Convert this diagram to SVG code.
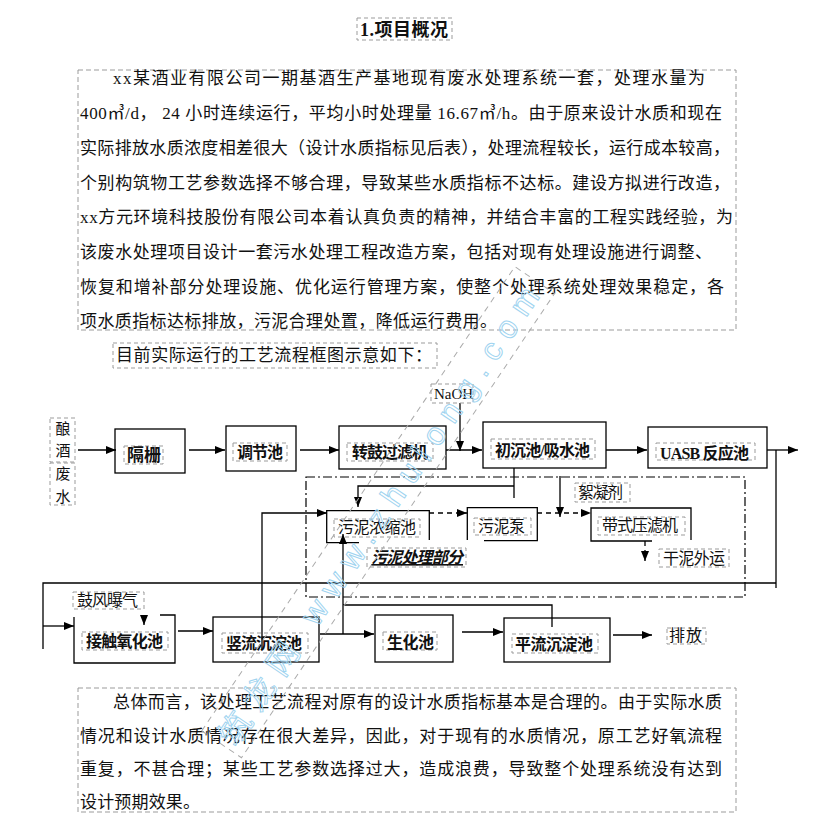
<svg xmlns="http://www.w3.org/2000/svg" width="825" height="822" viewBox="0 0 825 822">
<style>
.bg{fill:#fff}
.box{fill:none;stroke:#000;stroke-width:1.3}
.lb{fill:none;stroke:#9b9b9b;stroke-width:1;stroke-dasharray:4 3}
.pb{fill:none;stroke:#9b9b9b;stroke-width:1;stroke-dasharray:5 3}
.c{fill:none;stroke:#000;stroke-width:1.3}
.d{stroke-dasharray:5 4}
.dd{fill:none;stroke:#000;stroke-width:1.2;stroke-dasharray:9 3 2 3}
.t{font-family:"Liberation Serif","Noto Sans CJK SC",serif;font-size:17px;fill:#111}
.n{font-size:16px}
.b{font-weight:bold}
.wm{font-family:"Liberation Sans","Noto Sans CJK SC",sans-serif;font-size:32px;fill:none;stroke:#9fd4f0;stroke-width:1}
</style>
<defs>
<marker id="ah" viewBox="0 0 10 8" refX="10" refY="4" markerWidth="10" markerHeight="8" markerUnits="userSpaceOnUse" orient="auto">
<path d="M0,0 L10,4 L0,8 z" fill="#000"/>
</marker>
</defs>
<rect class="bg" x="0" y="0" width="825" height="822"/>

<g id="title">
<rect class="lb" x="357" y="18" width="95" height="22"/>
<text class="t b" x="360" y="36" style="font-size:18px" textLength="88" lengthAdjust="spacing">1.项目概况</text>
</g>

<g id="para1">
<rect class="pb" x="78" y="70" width="658" height="260"/>
<text class="t" x="113" y="84" textLength="592" lengthAdjust="spacing">xx某酒业有限公司一期基酒生产基地现有废水处理系统一套，处理水量为</text>
<text class="t" x="80" y="119" textLength="642" lengthAdjust="spacing">400㎥/d，  24 小时连续运行，平均小时处理量 16.67㎥/h。由于原来设计水质和现在</text>
<text class="t" x="80" y="154" textLength="650" lengthAdjust="spacing">实际排放水质浓度相差很大（设计水质指标见后表），处理流程较长，运行成本较高，</text>
<text class="t" x="80" y="189" textLength="650" lengthAdjust="spacing">个别构筑物工艺参数选择不够合理，导致某些水质指标不达标。建设方拟进行改造，</text>
<text class="t" x="80" y="223" textLength="653" lengthAdjust="spacing">xx方元环境科技股份有限公司本着认真负责的精神，并结合丰富的工程实践经验，为</text>
<text class="t" x="80" y="258" textLength="632" lengthAdjust="spacing">该废水处理项目设计一套污水处理工程改造方案，包括对现有处理设施进行调整、</text>
<text class="t" x="80" y="293" textLength="644" lengthAdjust="spacing">恢复和增补部分处理设施、优化运行管理方案，使整个处理系统处理效果稳定，各</text>
<text class="t" x="80" y="327" textLength="417" lengthAdjust="spacing">项水质指标达标排放，污泥合理处置，降低运行费用。</text>
</g>

<g id="intro">
<rect class="lb" x="113" y="343" width="324" height="25"/>
<text class="t" x="116" y="361" textLength="316" lengthAdjust="spacing">目前实际运行的工艺流程框图示意如下：</text>
</g>

<g id="sludge-zone">
<rect class="dd" x="306" y="477" width="439" height="120"/>
</g>

<g id="connectors">
<path class="c" d="M78,450 H116" marker-end="url(#ah)"/>
<path class="c" d="M189,450 H225" marker-end="url(#ah)"/>
<path class="c" d="M300,450 H339" marker-end="url(#ah)"/>
<path class="c" d="M446,450 H482" marker-end="url(#ah)"/>
<path class="c" d="M460,403 V451" marker-end="url(#ah)"/>
<path class="c" d="M606,450 H647" marker-end="url(#ah)"/>
<path class="c" d="M767,450 H798" marker-end="url(#ah)"/>
<path class="c" d="M776,450 V588"/>
<path class="c" d="M776,583 H43 V649"/>
<path class="c" d="M43,626 H74" marker-end="url(#ah)"/>
<path class="c" d="M144,616 V625" marker-end="url(#ah)"/>
<path class="c" d="M178,631 H213" marker-end="url(#ah)"/>
<path class="c" d="M262,650 V513 H327" marker-end="url(#ah)"/>
<path class="c" d="M320,634 H374" marker-end="url(#ah)"/>
<path class="c" d="M343,634 V534" marker-end="url(#ah)"/>
<path class="c" d="M552,627 V605 H343"/>
<path class="c" d="M462,632 H503" marker-end="url(#ah)"/>
<path class="c" d="M613,635 H652" marker-end="url(#ah)"/>
<path class="c" d="M514,468 V498"/>
<path class="c" d="M514,486 H358 V507" marker-end="url(#ah)"/>
<path class="c" d="M560,476 V517" marker-end="url(#ah)"/>
<path class="c d" d="M429,513 H467" marker-end="url(#ah)"/>
<path class="c d" d="M537,513 H591" marker-end="url(#ah)"/>
<path class="c d" d="M645,541 V561" marker-end="url(#ah)"/>
</g>

<g id="n-source">
<rect class="lb" x="50" y="418" width="25" height="44"/>
<rect class="lb" x="50" y="463" width="25" height="42"/>
<text class="t" x="63" y="433.5" text-anchor="middle" style="font-size:15px">酿</text>
<text class="t" x="63" y="455.5" text-anchor="middle" style="font-size:15px">酒</text>
<text class="t" x="63" y="478.5" text-anchor="middle" style="font-size:15px">废</text>
<text class="t" x="63" y="501.5" text-anchor="middle" style="font-size:15px">水</text>
</g>

<g id="n-geshan">
<rect class="box" x="115" y="429" width="70" height="44"/>
<rect class="lb" x="124" y="446" width="39" height="18"/>
<text class="t b" x="127" y="461" textLength="34" lengthAdjust="spacing">隔栅</text>
</g>

<g id="n-tiaojie">
<rect class="box" x="226" y="426" width="70" height="45"/>
<rect class="lb" x="233" y="443" width="54" height="18"/>
<text class="t b n" x="237" y="458" textLength="46" lengthAdjust="spacing">调节池</text>
</g>

<g id="n-zhuangu">
<rect class="box" x="339" y="426" width="107" height="43"/>
<rect class="lb" x="347" y="443" width="86" height="18"/>
<text class="t b n" x="352" y="458" textLength="76" lengthAdjust="spacing">转鼓过滤机</text>
</g>

<g id="n-naoh">
<rect class="lb" x="431" y="384" width="42" height="19"/>
<text class="t" x="434" y="399" style="font-size:15px" textLength="39" lengthAdjust="spacing">NaOH</text>
</g>

<g id="n-chuchen">
<rect class="box" x="483" y="422" width="123" height="46"/>
<rect class="lb" x="491" y="439" width="104" height="20"/>
<text class="t b n" x="495" y="456" textLength="95" lengthAdjust="spacing">初沉池/吸水池</text>
</g>

<g id="n-uasb">
<rect class="box" x="648" y="427" width="119" height="41"/>
<rect class="lb" x="656" y="443" width="99" height="17"/>
<text class="t b n" x="660" y="459" textLength="89" lengthAdjust="spacing">UASB 反应池</text>
</g>

<g id="n-nongsuo">
<path class="box" d="M359,542.7 H326.7 V510.7 H429.3 V540"/>
<rect class="lb" x="334" y="519" width="86" height="18"/>
<text class="t n" x="338" y="533" textLength="78" lengthAdjust="spacing">污泥浓缩池</text>
</g>

<g id="n-beng">
<path class="box" d="M467.3,540 V507.7 H537.3 V540.7 H484"/>
<rect class="lb" x="474" y="518" width="57" height="17"/>
<text class="t n" x="478" y="532" textLength="47" lengthAdjust="spacing">污泥泵</text>
</g>

<g id="n-yalv">
<path class="box" d="M652,541 H591 V508 H691 V540"/>
<rect class="lb" x="598" y="517" width="87" height="18"/>
<text class="t n" x="602" y="531" textLength="76" lengthAdjust="spacing">带式压滤机</text>
</g>

<g id="n-xuning">
<rect class="lb" x="575" y="483" width="55" height="19"/>
<text class="t n" x="578" y="498" textLength="45" lengthAdjust="spacing">絮凝剂</text>
</g>

<g id="n-ganni">
<rect class="lb" x="659" y="549" width="70" height="18"/>
<text class="t n" x="663" y="564" textLength="62" lengthAdjust="spacing">干泥外运</text>
</g>

<g id="n-zone-label">
<rect class="lb" x="367" y="548" width="99" height="19"/>
<text class="t b n" x="371" y="563" font-style="italic" text-decoration="underline" textLength="92" lengthAdjust="spacing">污泥处理部分</text>
</g>

<g id="n-gufeng">
<rect class="lb" x="73" y="592" width="71" height="17"/>
<text class="t n" x="77" y="606" textLength="61" lengthAdjust="spacing">鼓风曝气</text>
</g>

<g id="n-jiechu">
<path class="box" d="M160,615 H175 V663 H74 V617"/>
<rect class="lb" x="82" y="632" width="86" height="18"/>
<text class="t b n" x="86" y="647" textLength="77" lengthAdjust="spacing">接触氧化池</text>
</g>

<g id="n-shuliu">
<rect class="box" x="213" y="617" width="106" height="45"/>
<rect class="lb" x="222" y="633" width="86" height="20"/>
<text class="t b n" x="226" y="649" textLength="76" lengthAdjust="spacing">竖流沉淀池</text>
</g>

<g id="n-shenghua">
<rect class="box" x="375" y="615" width="78" height="47"/>
<rect class="lb" x="383" y="632" width="54" height="18"/>
<text class="t b n" x="387" y="648" textLength="47" lengthAdjust="spacing">生化池</text>
</g>

<g id="n-pingliu">
<rect class="box" x="504" y="618" width="106" height="44"/>
<rect class="lb" x="512" y="634" width="86" height="19"/>
<text class="t b n" x="515" y="650" textLength="78" lengthAdjust="spacing">平流沉淀池</text>
</g>

<g id="n-paifang">
<rect class="lb" x="667" y="628" width="39" height="16"/>
<text class="t n" x="669" y="641" textLength="33" lengthAdjust="spacing">排放</text>
</g>

<g id="para2">
<rect class="pb" x="78" y="688" width="658" height="124"/>
<text class="t" x="113" y="708" textLength="609" lengthAdjust="spacing">总体而言，该处理工艺流程对原有的设计水质指标基本是合理的。由于实际水质</text>
<text class="t" x="80" y="742" textLength="642" lengthAdjust="spacing">情况和设计水质情况存在很大差异，因此，对于现有的水质情况，原工艺好氧流程</text>
<text class="t" x="80" y="775" textLength="642" lengthAdjust="spacing">重复，不甚合理；某些工艺参数选择过大，造成浪费，导致整个处理系统没有达到</text>
<text class="t" x="80" y="808" textLength="120" lengthAdjust="spacing">设计预期效果。</text>
</g>

<g id="watermark" transform="translate(236,748) rotate(-56)">
<rect x="-5" y="-38" width="560" height="48" fill="none" stroke="#aaa" stroke-width="1" stroke-dasharray="6 5"/>
<text class="wm" x="0" y="0" textLength="545" lengthAdjust="spacing">筑龙网 www.zhulong.com</text>
</g>
</svg>
